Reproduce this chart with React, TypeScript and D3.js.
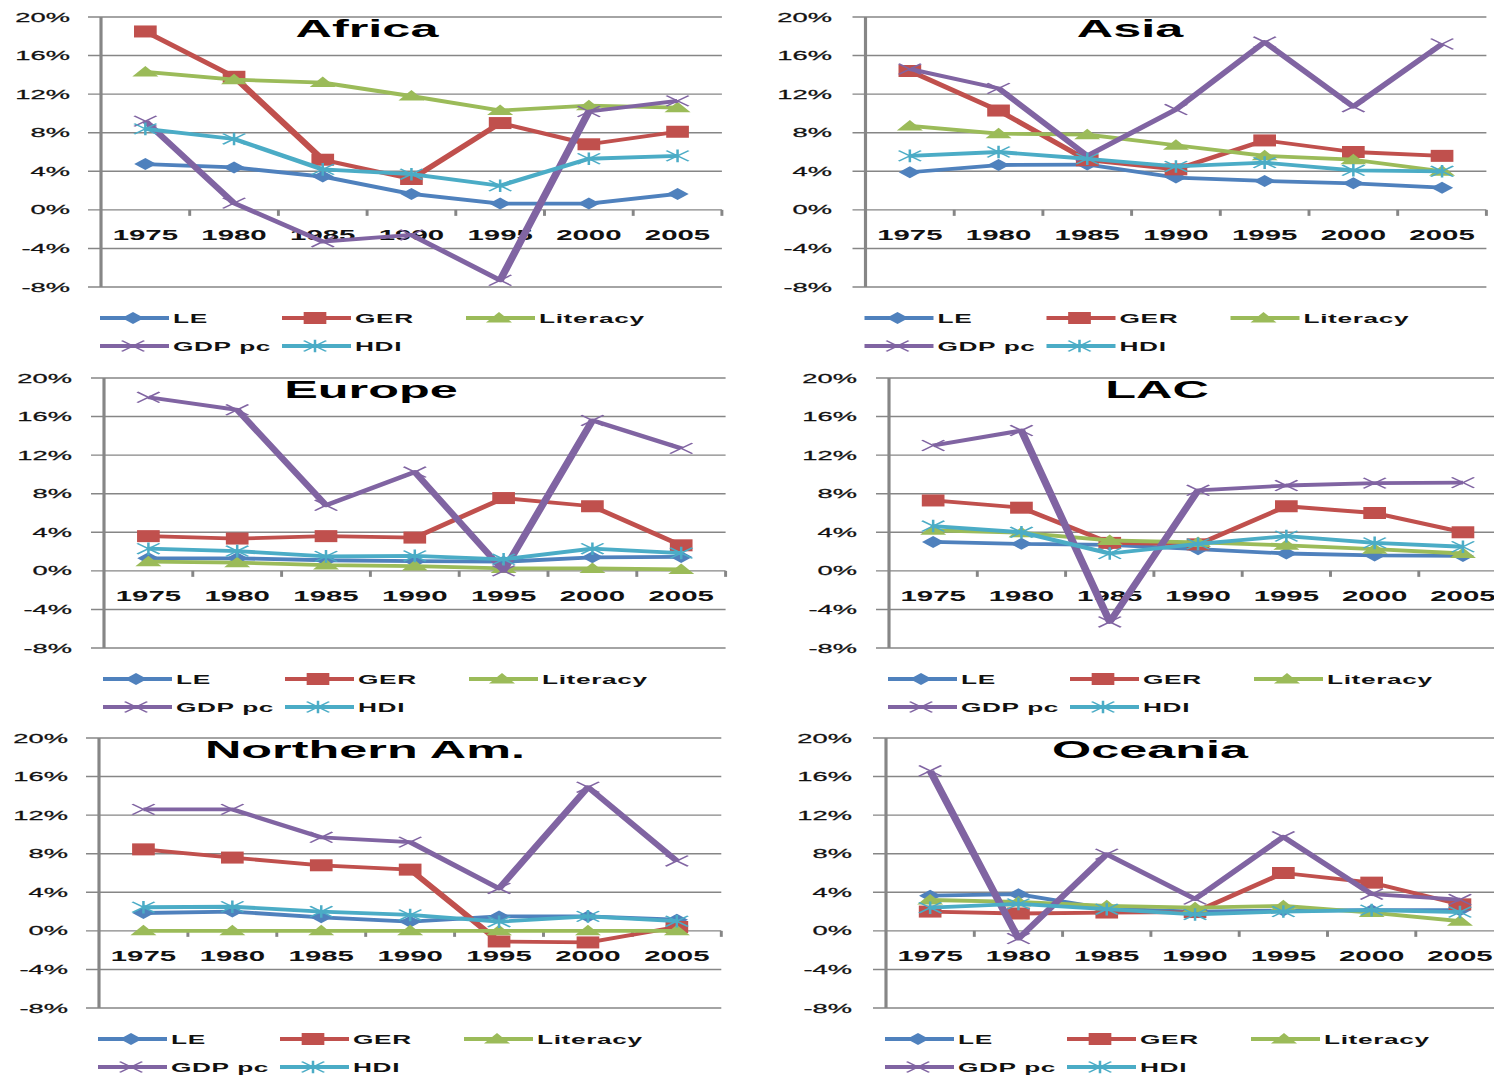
import React from "react";
import * as d3 from "d3";

const YEARS = ["1975", "1980", "1985", "1990", "1995", "2000", "2005"];
const SERIES = ["LE", "GER", "Literacy", "GDP pc", "HDI"];
const Y_TICKS = [20, 16, 12, 8, 4, 0, -4, -8];

// Growth rates (%), rows in SERIES order: LE, GER, Literacy, GDP pc, HDI
const AFRICA = [
  [4.75, 4.4, 3.45, 1.65, 0.65, 0.65, 1.65],
  [18.5, 13.8, 5.2, 3.2, 9.0, 6.8, 8.1],
  [14.3, 13.5, 13.2, 11.8, 10.3, 10.8, 10.6],
  [9.2, 0.7, -3.3, -2.6, -7.3, 10.2, 11.3],
  [8.4, 7.35, 4.2, 3.7, 2.5, 5.3, 5.6],
];
const ASIA = [
  [3.9, 4.65, 4.7, 3.35, 3.0, 2.75, 2.3],
  [14.4, 10.3, 5.15, 4.2, 7.2, 6.0, 5.6],
  [8.7, 7.9, 7.8, 6.7, 5.6, 5.2, 4.0],
  [14.6, 12.6, 5.6, 10.4, 17.4, 10.7, 17.2],
  [5.6, 6.0, 5.3, 4.5, 4.9, 4.1, 4.0],
];
const EUROPE = [
  [1.3, 1.3, 1.1, 1.0, 0.95, 1.4, 1.45],
  [3.6, 3.35, 3.6, 3.45, 7.55, 6.7, 2.65],
  [0.95, 0.85, 0.6, 0.5, 0.25, 0.25, 0.15],
  [18.0, 16.7, 6.8, 10.25, 0.0, 15.6, 12.7],
  [2.3, 2.05, 1.5, 1.55, 1.2, 2.3, 1.85],
];
const LAC = [
  [3.0, 2.8, 2.7, 2.25, 1.8, 1.6, 1.55],
  [7.3, 6.55, 2.9, 2.75, 6.7, 6.0, 4.0],
  [4.2, 3.95, 3.15, 2.95, 2.65, 2.25, 1.8],
  [13.0, 14.55, -5.3, 8.35, 8.85, 9.1, 9.15],
  [4.65, 4.0, 1.8, 2.8, 3.6, 2.9, 2.5],
];
const NORTHERN_AM = [
  [1.85, 2.0, 1.4, 0.95, 1.5, 1.5, 1.15],
  [8.45, 7.6, 6.8, 6.35, -1.1, -1.2, 0.4],
  [0, 0, 0, 0, 0, 0, 0],
  [12.6, 12.6, 9.7, 9.2, 4.4, 14.9, 7.25],
  [2.45, 2.5, 2.0, 1.65, 0.95, 1.5, 1.0],
];
const OCEANIA = [
  [3.65, 3.8, 2.3, 2.0, 2.1, 2.15, 2.15],
  [2.0, 1.8, 1.9, 1.95, 6.0, 5.0, 2.75],
  [3.2, 3.0, 2.6, 2.4, 2.6, 1.9, 1.0],
  [16.6, -0.8, 7.95, 3.3, 9.75, 3.8, 3.25],
  [2.4, 2.8, 2.25, 1.7, 2.0, 2.15, 1.95],
];

const COLORS = ["#4F81BD", "#C0504D", "#9BBB59", "#8064A2", "#4BACC6"];
const MARKERS = ["diamond", "square", "triangle", "x", "star"];
const SX = 2.1;
const FONT = "'Liberation Sans', Arial, sans-serif";
const GRID = "#868686";
const LINE_W = 3.8;

const PANELS = [
  { title: "Africa", data: AFRICA, axisX: 101, band: 88.7, yTop: 17, yBot: 287, labelR: 70, titleX: 367 },
  { title: "Asia", data: ASIA, axisX: 865.5, band: 88.7, yTop: 17, yBot: 287, labelR: 832, titleX: 1130 },
  { title: "Europe", data: EUROPE, axisX: 104, band: 88.8, yTop: 378, yBot: 648, labelR: 72, titleX: 371 },
  { title: "LAC", data: LAC, axisX: 889, band: 88.3, yTop: 378, yBot: 648, labelR: 857, titleX: 1157 },
  { title: "Northern Am.", data: NORTHERN_AM, axisX: 99, band: 88.9, yTop: 738, yBot: 1008, labelR: 68, titleX: 365 },
  { title: "Oceania", data: OCEANIA, axisX: 886, band: 88.3, yTop: 738, yBot: 1008, labelR: 852, titleX: 1150 },
];

function Marker({ type, cx, cy, color }: { type: string; cx: number; cy: number; color: string }) {
  if (type === "diamond")
    return <path d={`M${cx},${cy - 6}L${cx + 5.3},${cy}L${cx},${cy + 6}L${cx - 5.3},${cy}Z`} fill={color} />;
  if (type === "square") return <rect x={cx - 5.4} y={cy - 6} width={10.8} height={12} fill={color} />;
  if (type === "triangle")
    return <path d={`M${cx},${cy - 6}L${cx + 6.2},${cy + 4.5}L${cx - 6.2},${cy + 4.5}Z`} fill={color} />;
  const s = 5.3;
  return (
    <path
      d={`M${cx - s},${cy - s}L${cx + s},${cy + s}M${cx - s},${cy + s}L${cx + s},${cy - s}${
        type === "star" ? `M${cx},${cy - s - 1}L${cx},${cy + s + 1}` : ""
      }`}
      stroke={color}
      strokeWidth={1.2}
      fill="none"
    />
  );
}

function Panel({ p }: { p: (typeof PANELS)[number] }) {
  const x0 = p.axisX / SX;
  const bw = p.band / SX;
  const x = d3.scaleBand<string>().domain(YEARS).range([x0, x0 + YEARS.length * bw]);
  const y = d3.scaleLinear().domain([-8, 20]).range([p.yBot, p.yTop]);
  const gridL = (p.axisX - 13) / SX;
  const gridR = x0 + YEARS.length * bw;
  const cx = (i: number) => (x(YEARS[i]) as number) + x.bandwidth() / 2;
  const line = d3
    .line<number>()
    .x((_, i) => cx(i))
    .y((d) => y(d));
  const legendItems = [
    { s: 0, dx: 0, row: 0 },
    { s: 1, dx: 182, row: 0 },
    { s: 2, dx: 366, row: 0 },
    { s: 3, dx: 0, row: 1 },
    { s: 4, dx: 182, row: 1 },
  ];
  return (
    <g>
      {Y_TICKS.map((t) => (
        <g key={t}>
          <line x1={gridL} x2={gridR} y1={y(t)} y2={y(t)} stroke={GRID} strokeWidth={1.4} />
          <text
            x={p.labelR / SX}
            y={y(t) + 4.6}
            textAnchor="end"
            fontSize={13}
            fontFamily={FONT}
            fill="#111"
            stroke="#111"
            strokeWidth={0.25}
          >
            {t}%
          </text>
        </g>
      ))}
      <line x1={x0} x2={x0} y1={p.yTop} y2={p.yBot} stroke={GRID} strokeWidth={1.5} />
      {YEARS.map((yr, i) => (
        <g key={yr}>
          <line
            x1={x0 + (i + 1) * bw}
            x2={x0 + (i + 1) * bw}
            y1={y(0)}
            y2={y(0) + 6}
            stroke={GRID}
            strokeWidth={1.4}
          />
          <text
            x={cx(i)}
            y={y(0) + 30}
            textAnchor="middle"
            fontSize={14}
            fontWeight="bold"
            fontFamily={FONT}
            fill="#111"
          >
            {yr}
          </text>
        </g>
      ))}
      <text
        x={p.titleX / SX}
        y={p.yTop + 20}
        textAnchor="middle"
        fontSize={24}
        fontWeight="bold"
        fontFamily={FONT}
        fill="#000"
      >
        {p.title}
      </text>
      {p.data.map((vals, s) => (
        <g key={SERIES[s]}>
          <path d={line(vals) || ""} fill="none" stroke={COLORS[s]} strokeWidth={LINE_W} strokeLinejoin="round" />
          {vals.map((v, i) => (
            <Marker key={i} type={MARKERS[s]} cx={cx(i)} cy={y(v)} color={COLORS[s]} />
          ))}
        </g>
      ))}
      {legendItems.map((it) => {
        const lx = (p.axisX - 1 + it.dx) / SX;
        const ly = p.yBot + (it.row === 0 ? 31 : 59);
        const len = 69 / SX;
        return (
          <g key={it.s}>
            <line x1={lx} x2={lx + len} y1={ly} y2={ly} stroke={COLORS[it.s]} strokeWidth={LINE_W} />
            <Marker type={MARKERS[it.s]} cx={lx + 33 / SX} cy={ly} color={COLORS[it.s]} />
            <text
              x={lx + 73 / SX}
              y={ly + 5}
              fontSize={12.5}
              fontWeight="bold"
              fontFamily={FONT}
              fill="#111"
              letterSpacing={0.3}
            >
              {SERIES[it.s]}
            </text>
          </g>
        );
      })}
    </g>
  );
}

export default function App() {
  return (
    <svg
      width={1494}
      height={1075}
      style={{ position: "absolute", left: 0, top: 0, background: "#fff" }}
    >
      <rect width={1494} height={1075} fill="#fff" />
      <g transform={`scale(${SX},1)`}>
        {PANELS.map((p) => (
          <Panel key={p.title} p={p} />
        ))}
      </g>
    </svg>
  );
}
